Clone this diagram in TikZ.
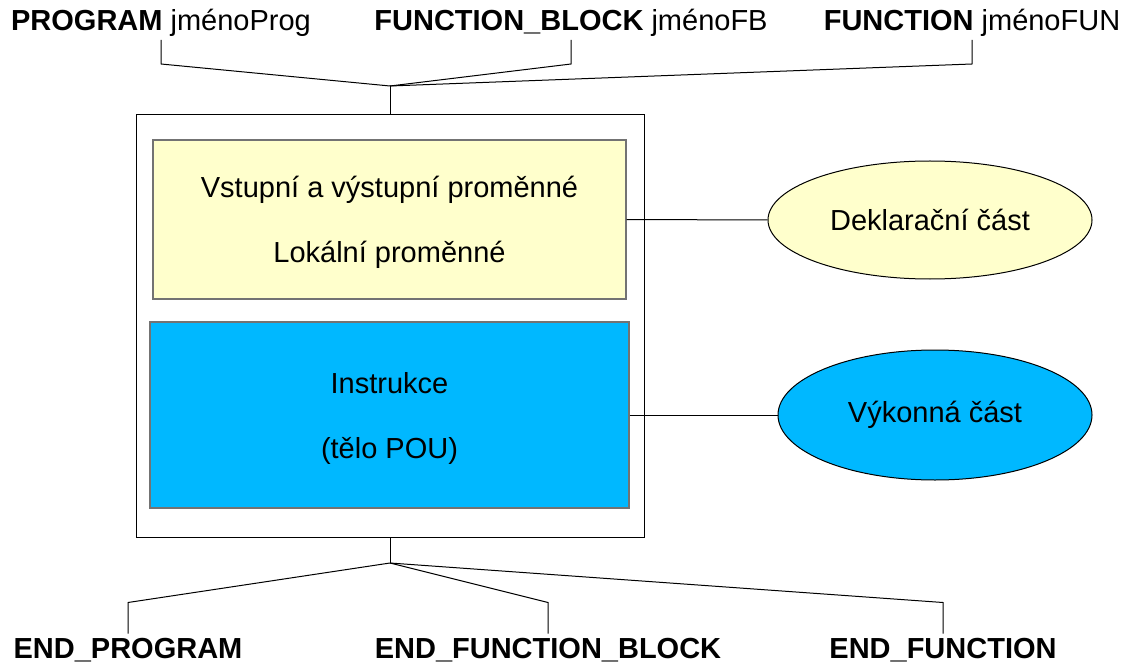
\documentclass[tikz,border=0pt]{standalone}
\usepackage{fontspec}
\setmainfont{Liberation Sans}
\usetikzlibrary{shapes.geometric}
\definecolor{declyellow}{RGB}{255,255,204}
\definecolor{execblue}{RGB}{0,184,255}
\tikzset{
    pouname/.style={inner xsep=0pt, inner ysep=3pt, text height=21pt, text depth=6pt, font={\fontsize{29}{34}\selectfont}},
    partbox/.style={draw=black!55, line width=1.2pt, align=center, text depth=0pt, font={\fontsize{29}{65}\selectfont}},
    partoval/.style={draw, ellipse, inner sep=0pt, font={\fontsize{29}{34}\selectfont}},
}
\begin{document}
\begin{tikzpicture}[x=1pt, y=-1pt, line width=1pt]
            \useasboundingbox (0,0) rectangle (1126,668);
            \node[pouname] (prog) at (161,23) {\textbf{PROGRAM} jménoProg};
            \node[pouname] (fb) at (571,23) {\textbf{FUNCTION\_BLOCK} jménoFB};
            \node[pouname] (fun) at (972,23) {\textbf{FUNCTION} jménoFUN};
            \coordinate (topjoin) at (390,86);
            \node[draw, minimum width=508pt, minimum height=422pt] (pou) at (390,326) {};
            \node[partbox, fill=declyellow, minimum width=473pt, minimum height=159pt] (decl) at (389.5,219.5)
                {Vstupní a výstupní proměnné\\Lokální proměnné};
            \node[partbox, fill=execblue, minimum width=479pt, minimum height=186pt] (exec) at (389.5,415)
                {Instrukce\\(tělo POU)};
            \node[partoval, fill=declyellow, minimum width=324pt, minimum height=118pt] (declpart) at (930,220) {Deklarační část};
            \node[partoval, fill=execblue, minimum width=314pt, minimum height=130pt] (execpart) at (935,415) {Výkonná část};
            \coordinate (botjoin) at (390,563);
            \node[pouname, anchor=base] (endprog) at (128,658) {\textbf{END\_PROGRAM}};
            \node[pouname, anchor=base] (endfb) at (548,658) {\textbf{END\_FUNCTION\_BLOCK}};
            \node[pouname, anchor=base] (endfun) at (943,658) {\textbf{END\_FUNCTION}};
            \draw (prog.south) -- ++(0,24) -- (topjoin);
            \draw (fb.south) -- ++(0,24) -- (topjoin);
            \draw (fun.south) -- ++(0,24) -- (topjoin);
            \draw (topjoin) -- (pou.north);
            \draw (decl.east) -- (declpart.west);
            \draw (exec.east) -- (execpart.west);
            \draw (pou.south) -- (botjoin);
            \draw (endprog.north) -- ++(0,-31) -- (botjoin);
            \draw (endfb.north) -- ++(0,-31) -- (botjoin);
            \draw (endfun.north) -- ++(0,-31) -- (botjoin);
        \end{tikzpicture}
\end{document}
